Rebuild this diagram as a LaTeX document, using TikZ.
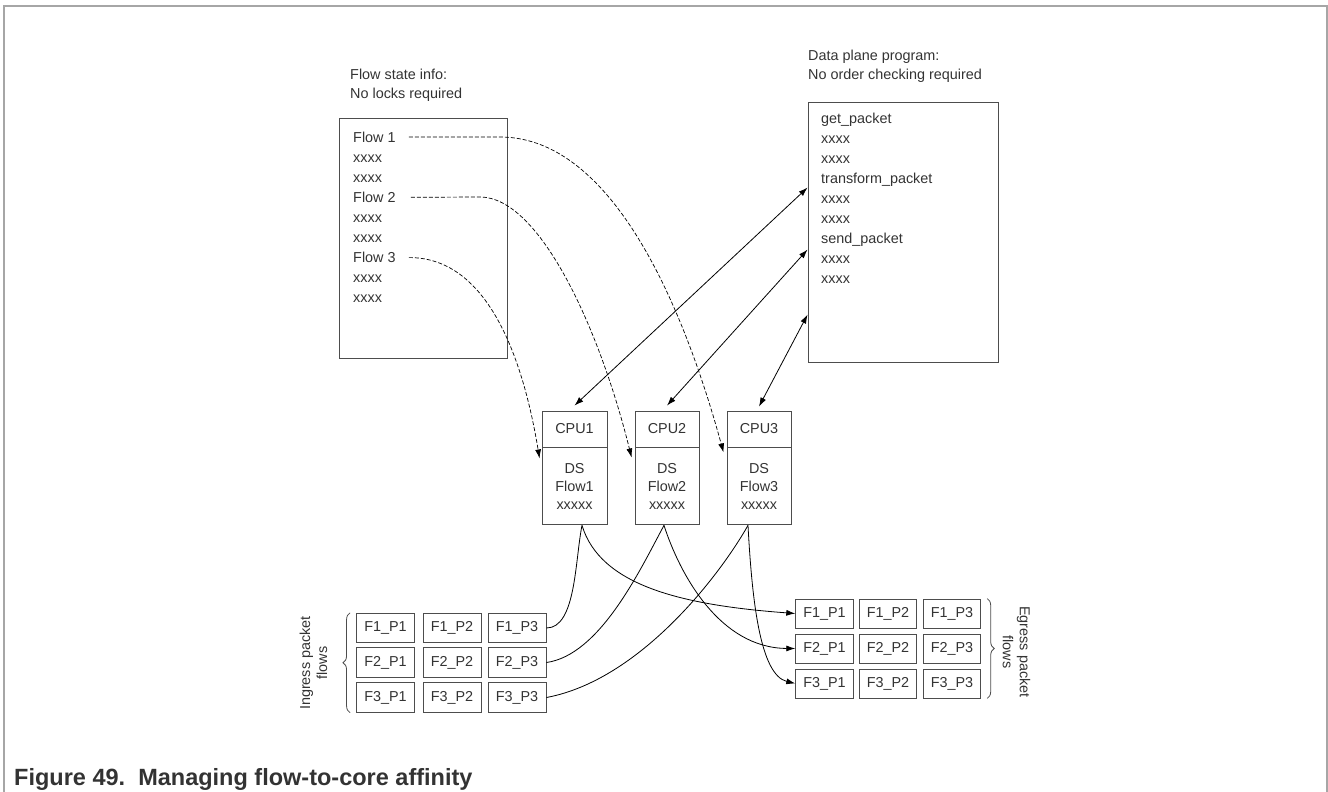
\documentclass[tikz,border=0pt]{standalone}
\usepackage{fontspec}
\setmainfont{Liberation Sans}
\usetikzlibrary{arrows.meta,decorations.pathreplacing,calc}
\definecolor{txt}{HTML}{333333}
\definecolor{framec}{HTML}{A6A6A6}
\definecolor{boxc}{HTML}{4D4D4D}
\begin{document}
\begin{tikzpicture}[x=1pt,y=-1pt,
  box/.style={draw=boxc, line width=0.9pt, inner sep=0},
  row/.style={inner sep=0, anchor=base west, font=\fontsize{14.4}{17}\selectfont, text=txt},
  cpuhead/.style={box, minimum height=36, font=\fontsize{14.4}{17}\selectfont, text=txt},
  cpubody/.style={box, minimum height=77, align=center, font=\fontsize{14.4}{18}\selectfont, text=txt},
  pkt/.style={box, minimum width=58, minimum height=29.5, font=\fontsize{14.4}{17}\selectfont, text=txt},
  dashline/.style={black, line width=0.7pt, dash pattern=on 4pt off 2pt},
  conn/.style={black, line width=0.8pt},
  tip/.style={-{Latex[length=9pt,width=6pt]}},
  dtip/.style={{Latex[length=9pt,width=6pt]}-{Latex[length=9pt,width=6pt]}},
  side/.style={font=\fontsize{14.4}{17}\selectfont, text=txt, align=center, inner sep=0},
  brc/.style={boxc, line width=0.8pt, decorate, decoration={brace, amplitude=7pt}}
]
\useasboundingbox (0,0) rectangle (1328,792);
% frame
\draw[framec, line width=1.5pt] (4,792) -- (4,6) -- (1327,6) -- (1327,792);

% titles
\node[row] (t1) at (350,80) {Flow state info:};
\node[row] (t2) at (350,99) {No locks required};
\node[row] (t3) at (808,60) {Data plane program:};
\node[row] (t4) at (808,79) {No order checking required};

% flow state box
\node[box, minimum width=168, minimum height=240] (fs) at (423,238) {};
\node[row] (f1)  at (353,142)   {Flow 1};
\node[row] (fa1) at (353,162.1) {xxxx};
\node[row] (fa2) at (353,182.2) {xxxx};
\node[row] (f2)  at (353,202.3) {Flow 2};
\node[row] (fb1) at (353,222.4) {xxxx};
\node[row] (fb2) at (353,242.5) {xxxx};
\node[row] (f3)  at (353,262.6) {Flow 3};
\node[row] (fc1) at (353,282.7) {xxxx};
\node[row] (fc2) at (353,302.8) {xxxx};

% data plane box
\node[box, minimum width=190, minimum height=260] (dp) at (903,232) {};
\node[row] (g1) at (821,123)   {get\_packet};
\node[row] (g2) at (821,143.1) {xxxx};
\node[row] (g3) at (821,163.2) {xxxx};
\node[row] (g4) at (821,183.3) {transform\_packet};
\node[row] (g5) at (821,203.4) {xxxx};
\node[row] (g6) at (821,223.5) {xxxx};
\node[row] (g7) at (821,243.6) {send\_packet};
\node[row] (g8) at (821,263.7) {xxxx};
\node[row] (g9) at (821,283.8) {xxxx};

% CPUs
\node[cpuhead, minimum width=65] (cpu1) at (574.5,429) {CPU1};
\node[cpubody, minimum width=65, anchor=north] (ds1) at (cpu1.south) {DS\\Flow1\\xxxxx};
\node[cpuhead, minimum width=64] (cpu2) at (667,429) {CPU2};
\node[cpubody, minimum width=64, anchor=north] (ds2) at (cpu2.south) {DS\\Flow2\\xxxxx};
\node[cpuhead, minimum width=64] (cpu3) at (759,429) {CPU3};
\node[cpubody, minimum width=64, anchor=north] (ds3) at (cpu3.south) {DS\\Flow3\\xxxxx};

% ingress packets
\foreach \r/\y in {1/628,2/662.5,3/697.5}{
  \foreach \c/\x in {1/385.5,2/452,3/517}{
    \node[pkt] (i\r\c) at (\x,\y) {F\r\_P\c};
  }
}
% egress packets
\foreach \r/\y in {1/613.5,2/648.5,3/683.5}{
  \foreach \c/\x in {1/824.5,2/888,3/952}{
    \node[pkt, minimum width=57.5, minimum height=29] (e\r\c) at (\x,\y) {F\r\_P\c};
  }
}

% braces and side labels
\draw[brc] ([xshift=-6pt]i31.south west) -- ([xshift=-6pt]i11.north west);
\draw[brc] ([xshift=6pt]e13.north east) -- ([xshift=6pt]e33.south east);
\node[side, rotate=90] (inl) at (313.5,663) {Ingress packet\\flows};
\node[side, rotate=-90] (egl) at (1016.5,652) {Egress packet\\flows};

% dashed flow connectors
\draw[dashline, tip] ([shift={(13pt,5pt)}]f1.base east) -- (500,137)
  .. controls (620,137) and (690,330) .. ([shift={(-3pt,-5pt)}]ds3.north west);
\draw[dashline, tip] ([shift={(15pt,5pt)}]f2.base east) -- (480,197)
  .. controls (540,197) and (600,330) .. ([shift={(-3pt,-10pt)}]ds2.north west);
\draw[dashline, tip] ([shift={(13pt,5pt)}]f3.base east)
  .. controls (480,257) and (520,340) .. ([shift={(-2pt,-11pt)}]ds1.north west);

% CPU <-> program
\draw[conn, dtip] ([yshift=5pt]cpu1.north) -- ([yshift=-86pt]dp.north west);
\draw[conn, dtip] ([yshift=5pt]cpu2.north) -- ([yshift=-148pt]dp.north west);
\draw[conn, dtip] ([yshift=4pt]cpu3.north) -- ([yshift=-213pt]dp.north west);

% bottom connectors
\coordinate (b1) at ([xshift=7.5pt]ds1.south);
\coordinate (b2) at ([xshift=-3pt]ds2.south);
\coordinate (b3) at ([xshift=-11pt]ds3.south);
\draw[conn] (b1) .. controls (575,560) and (576,628) .. (i13.east);
\draw[conn, tip] (b1) .. controls (600,585) and (680,605) .. (e11.west);
\draw[conn] (b2) .. controls (640,570) and (600,655) .. (i23.east);
\draw[conn, tip] (b2) .. controls (680,575) and (720,648) .. (e21.west);
\draw[conn] (b3) .. controls (720,575) and (640,680) .. (i33.east);
\draw[conn, tip] (b3) .. controls (752,600) and (760,675) .. (e31.west);

% caption
\node[anchor=base west, inner sep=0, font=\bfseries\fontsize{23.5}{28}\selectfont, text=txt] (cap) at (14,785) {Figure 49.\ \ Managing flow-to-core affinity};
\end{tikzpicture}
\end{document}
